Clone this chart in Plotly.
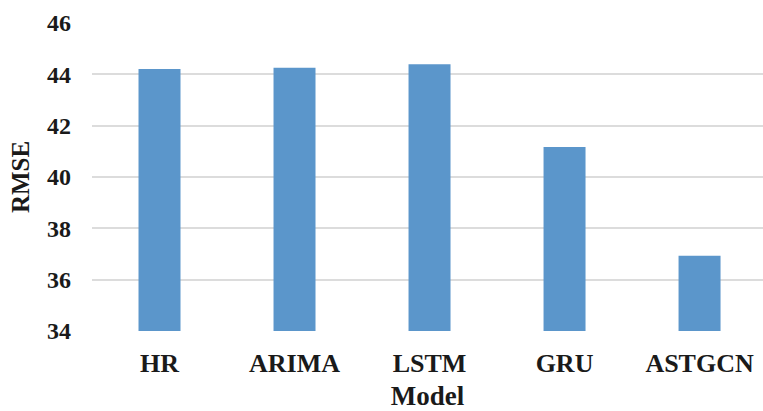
import plotly.graph_objects as go

# RMSE of each traffic forecasting model
models = ["HR", "ARIMA", "LSTM", "GRU", "ASTGCN"]
rmse = [44.21, 44.26, 44.39, 41.17, 36.93]
y_ticks = [34, 36, 38, 40, 42, 44, 46]

serif = "Liberation Serif, Times New Roman, serif"
ink = "#1a1a1a"

fig = go.Figure(
    go.Bar(
        x=models,
        y=rmse,
        marker=dict(color="#5b96cb", line=dict(width=0)),
        hoverinfo="x+y",
    )
)

fig.update_layout(
    width=763,
    height=411,
    margin=dict(l=92, r=0, t=23, b=80),
    paper_bgcolor="white",
    plot_bgcolor="white",
    bargap=0.689,
    showlegend=False,
    font=dict(family=serif, color=ink),
)

fig.update_xaxes(
    range=[-0.5, 4.47],
    showgrid=False,
    showline=False,
    zeroline=False,
    ticks="",
    tickfont=dict(family=serif, size=26, weight="bold", color=ink),
    ticklabelstandoff=14,
    title=dict(text="Model", font=dict(family=serif, size=27, weight="bold", color=ink), standoff=9),
)

fig.update_yaxes(
    range=[34, 46],
    tickvals=y_ticks,
    showgrid=True,
    gridcolor="#dcdcdc",
    gridwidth=1.5,
    showline=False,
    zeroline=False,
    ticks="",
    tickfont=dict(family=serif, size=24, weight="bold", color=ink),
    ticklabelstandoff=20,
    title=dict(text="RMSE", font=dict(family=serif, size=25, weight="bold", color=ink), standoff=10),
)

fig.write_html("out.html")
